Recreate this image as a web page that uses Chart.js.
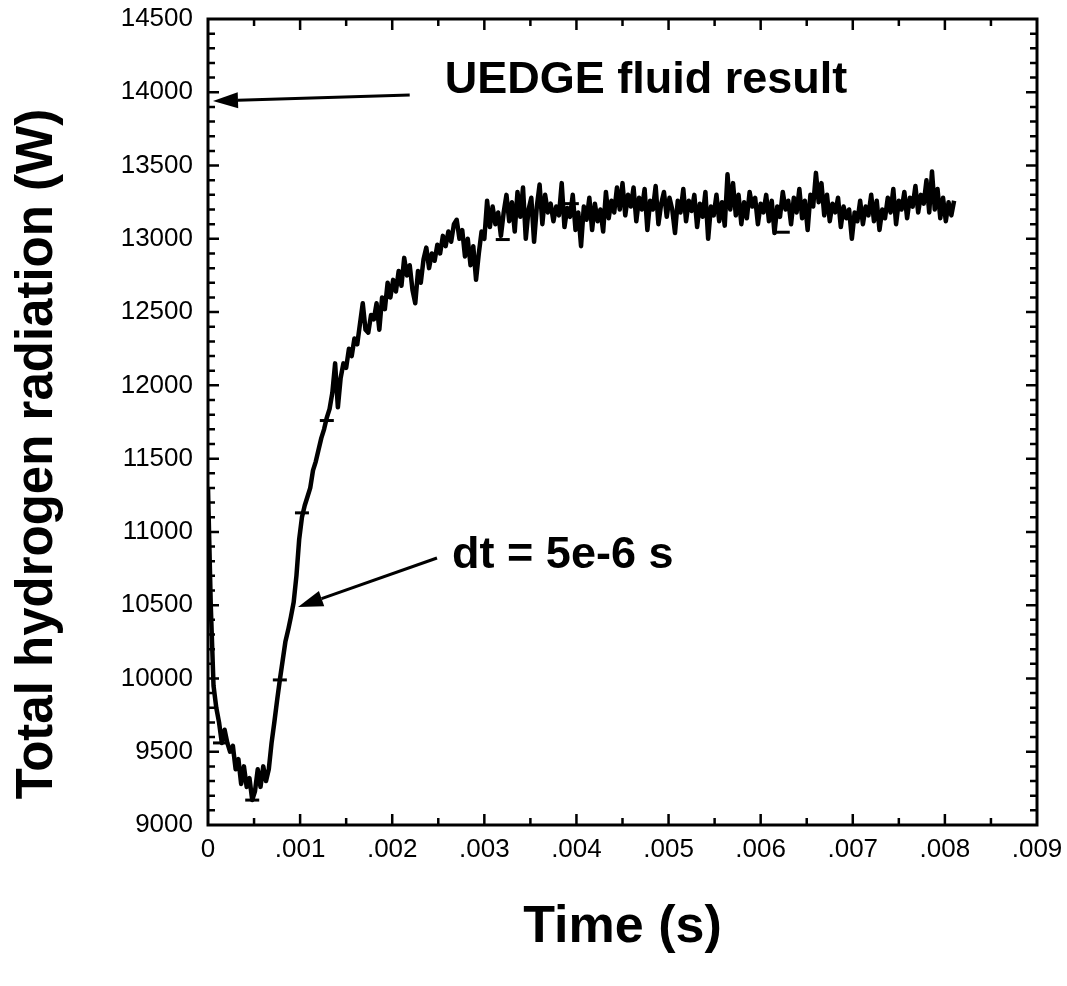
<!DOCTYPE html>
<html lang="en">
<head>
<meta charset="UTF-8">
<title>Total hydrogen radiation vs time</title>
<script src="https://cdn.jsdelivr.net/npm/chart.js@4"></script>
<style>
  html, body { margin: 0; padding: 0; background: #fff; }
  #wrap { width: 1067px; height: 986px; }
</style>
</head>
<body>
<div id="wrap"><canvas id="radChart"></canvas></div>
<script>
const sampleStep = 0.00003;
const radiation = [
  11300, 10500, 9950, 9800, 9700, 9560, 9650, 9560, 9500, 9540,        // t = 0
  9380, 9450, 9280, 9400, 9260, 9320, 9170, 9230, 9380, 9260,          // .0003
  9400, 9300, 9380, 9560, 9700, 9850, 9990, 10120, 10250, 10330,       // .0006
  10420, 10520, 10700, 10950, 11100, 11180, 11240, 11300, 11420, 11480,// .0009
  11560, 11640, 11700, 11780, 11840, 11950, 12150, 11850, 12050, 12150,// .0012
  12120, 12250, 12200, 12320, 12280, 12420, 12560, 12380, 12360, 12480,// .0015
  12450, 12560, 12380, 12600, 12520, 12700, 12600, 12720, 12640, 12780,// .0018
  12680, 12870, 12750, 12820, 12650, 12560, 12780, 12700, 12860, 12940,// .0021
  12800, 12900, 12850, 12960, 12900, 13020, 12950, 13050, 12980, 13100,// .0024
  13130, 13000, 13060, 12880, 13000, 12820, 12950, 12720, 12900, 13050,// .0027
  13000, 13260, 13080, 13220, 13100, 13180, 13020, 13180, 13300, 13120,// .0030
  13250, 13050, 13320, 13150, 13350, 13000, 13200, 13280, 12980, 13220,// .0033
  13370, 13100, 13300, 13180, 13240, 13120, 13220, 13160, 13380, 13080,// .0036
  13210, 13150, 13300, 13060, 13180, 12950, 13220, 13130, 13280, 13060,// .0039
  13240, 13120, 13200, 13050, 13320, 13140, 13260, 13180, 13350, 13200,// .0042
  13380, 13160, 13300, 13220, 13350, 13120, 13280, 13200, 13340, 13060,// .0045
  13260, 13200, 13360, 13100, 13240, 13320, 13150, 13280, 13200, 13040,// .0048
  13260, 13180, 13340, 13120, 13260, 13190, 13300, 13080, 13240, 13150,// .0051
  13320, 13000, 13220, 13160, 13300, 13120, 13250, 13090, 13440, 13200,// .0054
  13380, 13160, 13300, 13100, 13250, 13140, 13320, 13220, 13280, 13100,// .0057
  13240, 13180, 13300, 13120, 13260, 13040, 13220, 13150, 13320, 13200,// .0060
  13260, 13100, 13280, 13180, 13340, 13140, 13260, 13060, 13300, 13220,// .0063
  13450, 13250, 13380, 13160, 13300, 13120, 13240, 13180, 13280, 13080,// .0066
  13220, 13140, 13200, 13000, 13180, 13120, 13260, 13100, 13220, 13160,// .0069
  13300, 13120, 13260, 13060, 13200, 13140, 13280, 13180, 13340, 13100,// .0072
  13260, 13200, 13320, 13140, 13280, 13220, 13360, 13180, 13300, 13240,// .0075
  13400, 13180, 13460, 13200, 13340, 13140, 13280, 13120, 13250, 13160,// .0078
  13260                                                                // .0081
];

// sparse plot symbols sitting on the curve
const markerTimes  = [0.00013, 0.00048, 0.00078, 0.00102, 0.00129, 0.0032, 0.00395, 0.00624];
const markerValues = [9560, 9170, 9990, 11130, 11760, 12995, 13240, 13045];

const xTickValues = [0, 0.001, 0.002, 0.003, 0.004, 0.005, 0.006, 0.007, 0.008, 0.009];
const yTickValues = [9000, 9500, 10000, 10500, 11000, 11500, 12000, 12500, 13000, 13500, 14000, 14500];
const xMinorStep = 0.0005;
const yMinorStep = 100;

// text labels with arrows, in data units
const notes = [
  { text: 'UEDGE fluid result', tx: 0.00257, ty: 13995, from: [0.00219, 13981], to: [0.000054, 13940] },
  { text: 'dt = 5e-6 s',        tx: 0.00265, ty: 10754, from: [0.002486, 10822], to: [0.000977, 10488] }
];

const FONT = "'Liberation Sans', Arial, Helvetica, sans-serif";

const curvePoints = radiation.map((v, i) => ({ x: i * sampleStep, y: v }));
const markerPoints = markerTimes.map((t, i) => ({ x: t, y: markerValues[i] }));

function drawArrow(ctx, x1, y1, x2, y2) {
  const ang = Math.atan2(y2 - y1, x2 - x1);
  const len = 25, half = 8;
  const bx = x2 - len * Math.cos(ang), by = y2 - len * Math.sin(ang);
  ctx.beginPath();
  ctx.moveTo(x1, y1);
  ctx.lineTo(bx, by);
  ctx.stroke();
  ctx.beginPath();
  ctx.moveTo(x2, y2);
  ctx.lineTo(bx + half * Math.sin(ang), by - half * Math.cos(ang));
  ctx.lineTo(bx - half * Math.sin(ang), by + half * Math.cos(ang));
  ctx.closePath();
  ctx.fill();
}

// box frame, inward ticks on all four sides, y title and the annotations
const frameAndNotes = {
  id: 'frameAndNotes',
  afterDraw(chart) {
    const { ctx, chartArea: a, scales: { x, y } } = chart;
    ctx.save();
    ctx.strokeStyle = '#000';
    ctx.fillStyle = '#000';
    ctx.lineWidth = 3;
    ctx.strokeRect(a.left, a.top, a.right - a.left, a.bottom - a.top);

    ctx.lineWidth = 2.5;
    ctx.beginPath();
    const nx = Math.round((x.max - x.min) / xMinorStep);
    for (let k = 1; k < nx; k++) {
      const px = x.getPixelForValue(x.min + k * xMinorStep);
      const len = k % 2 === 0 ? 11 : 7;
      ctx.moveTo(px, a.bottom); ctx.lineTo(px, a.bottom - len);
      ctx.moveTo(px, a.top);    ctx.lineTo(px, a.top + len);
    }
    const ny = Math.round((y.max - y.min) / yMinorStep);
    for (let k = 1; k < ny; k++) {
      const py = y.getPixelForValue(y.min + k * yMinorStep);
      const len = k % 5 === 0 ? 11 : 7;
      ctx.moveTo(a.left, py);  ctx.lineTo(a.left + len, py);
      ctx.moveTo(a.right, py); ctx.lineTo(a.right - len, py);
    }
    ctx.stroke();

    // y title sits a bit below the middle of the axis in the original
    ctx.save();
    ctx.translate(38, (a.top + a.bottom) / 2 + 32);
    ctx.rotate(-Math.PI / 2);
    ctx.font = 'bold 51px ' + FONT;
    ctx.textAlign = 'center';
    ctx.textBaseline = 'middle';
    ctx.fillText('Total hydrogen radiation (W)', 0, 0);
    ctx.restore();

    ctx.lineWidth = 3;
    ctx.font = 'bold 45px ' + FONT;
    ctx.textAlign = 'left';
    ctx.textBaseline = 'alphabetic';
    notes.forEach(n => {
      ctx.fillText(n.text, x.getPixelForValue(n.tx), y.getPixelForValue(n.ty));
      drawArrow(ctx,
        x.getPixelForValue(n.from[0]), y.getPixelForValue(n.from[1]),
        x.getPixelForValue(n.to[0]), y.getPixelForValue(n.to[1]));
    });
    ctx.restore();
  }
};

const tickFont = { family: FONT, size: 26 };

new Chart(document.getElementById('radChart'), {
  type: 'scatter',
  data: {
    datasets: [{
      data: curvePoints,
      showLine: true,
      borderColor: '#000',
      borderWidth: 4.5,
      borderJoinStyle: 'round',
      pointRadius: 0,
      tension: 0
    }, {
      data: markerPoints,
      pointStyle: 'line',
      pointRadius: 7,
      borderColor: '#000',
      borderWidth: 3
    }]
  },
  options: {
    responsive: true,
    maintainAspectRatio: false,
    animation: false,
    layout: { padding: { top: 19, right: 30, left: 0, bottom: 0 } },
    plugins: { legend: { display: false }, tooltip: { enabled: false } },
    scales: {
      x: {
        type: 'linear',
        min: 0,
        max: 0.009,
        afterBuildTicks: s => { s.ticks = xTickValues.map(v => ({ value: v })); },
        afterFit: s => { s.height = 161; s.paddingLeft = 0; s.paddingRight = 0; },
        grid: { display: false, drawTicks: false },
        border: { display: false },
        ticks: {
          color: '#000',
          font: tickFont,
          padding: 9,
          maxRotation: 0,
          autoSkip: false,
          callback: v => v === 0 ? '0' : v.toFixed(3).replace(/^0/, '')
        },
        title: {
          display: true,
          text: 'Time (s)',
          color: '#000',
          font: { family: FONT, size: 52, weight: 'bold' },
          padding: { top: 0, bottom: 27 }
        }
      },
      y: {
        min: 9000,
        max: 14500,
        afterBuildTicks: s => { s.ticks = yTickValues.map(v => ({ value: v })); },
        afterFit: s => { s.width = 208; s.paddingTop = 0; s.paddingBottom = 0; },
        grid: { display: false, drawTicks: false },
        border: { display: false },
        ticks: {
          color: '#000',
          font: tickFont,
          padding: 15,
          autoSkip: false,
          callback: v => String(v)
        }
      }
    }
  },
  plugins: [frameAndNotes]
});
</script>
</body>
</html>
